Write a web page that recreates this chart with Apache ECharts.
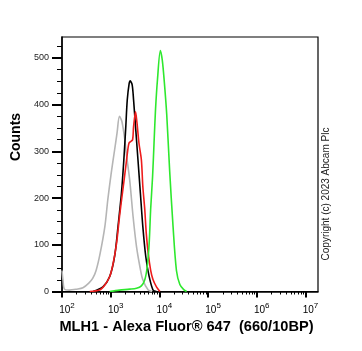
<!DOCTYPE html>
<html>
<head>
<meta charset="utf-8">
<style>
  html, body { margin: 0; padding: 0; background: #fff; }
  #main { width: 362px; height: 351px; }
</style>
<script src="https://cdn.jsdelivr.net/npm/echarts@6.0.0/dist/echarts.min.js"></script>
</head>
<body>
<div id="main"></div>
<script>
// x values are log10 of the fluorescence intensity (decades), y values are counts
var greyData = [[2.0, 45], [2.02, 25], [2.05, 5], [2.15, 3], [2.3, 5], [2.43, 8], [2.55, 18], [2.63, 28],
  [2.7, 45], [2.78, 80], [2.88, 139], [2.94, 196], [3.01, 253], [3.08, 303], [3.13, 339], [3.18, 375],
  [3.23, 364], [3.29, 325], [3.32, 296], [3.39, 239], [3.46, 160], [3.53, 96], [3.6, 53], [3.66, 25],
  [3.77, 3], [3.85, 0]];
var blackData = [[2.64, 0], [2.84, 10], [2.98, 32], [3.08, 75], [3.15, 139], [3.22, 210], [3.27, 282],
  [3.31, 353], [3.34, 410], [3.38, 446], [3.4, 451], [3.44, 443], [3.47, 410], [3.51, 353], [3.56, 282],
  [3.61, 210], [3.66, 139], [3.72, 75], [3.79, 32], [3.87, 3], [3.94, 0]];
var redData = [[2.57, 0], [2.77, 3], [2.88, 14], [2.98, 32], [3.05, 60], [3.12, 103], [3.18, 160],
  [3.25, 218], [3.31, 268], [3.36, 310], [3.38, 319], [3.41, 321], [3.45, 325], [3.47, 353], [3.51, 385],
  [3.54, 361], [3.58, 318], [3.63, 282], [3.66, 225], [3.7, 175], [3.73, 125], [3.77, 82], [3.82, 46],
  [3.87, 25], [3.94, 10], [4.01, 0]];
var greenData = [[2.98, 0], [3.18, 3], [3.39, 5], [3.53, 7], [3.63, 12], [3.7, 25], [3.75, 53], [3.79, 103],
  [3.82, 175], [3.86, 246], [3.89, 318], [3.92, 389], [3.96, 453], [4.02, 516], [4.06, 495], [4.1, 450],
  [4.15, 380], [4.21, 260], [4.28, 140], [4.35, 45], [4.42, 15], [4.5, 4], [4.56, 0]];

var xMajorTicks = [2, 3, 4, 5, 6, 7];
var yMajorTicks = [0, 100, 200, 300, 400, 500];
var yMinorTicks = [25, 50, 75, 125, 150, 175, 225, 250, 275, 325, 350, 375, 425, 450, 475, 525];

// minor ticks at 2..9 x 10^n
var xMinorTicks = [];
for (var n = 2; n < 7; n++) {
  for (var k = 2; k < 10; k++) {
    xMinorTicks.push(n + Math.log10(k));
  }
}

var font = 'Liberation Sans, Arial, sans-serif';
var myChart = echarts.init(document.getElementById('main'));

function curve(data, color) {
  return {
    type: 'line',
    data: data,
    showSymbol: false,
    smooth: 0.3,
    lineStyle: { color: color, width: 1.6 },
    silent: true
  };
}

myChart.setOption({
  animation: false,
  grid: {
    left: 62, right: 44, top: 37, bottom: 59.5,
    show: true, borderColor: '#000', borderWidth: 1.2,
    outerBoundsMode: 'none'
  },
  xAxis: [{
    type: 'value',
    min: 2, max: 7.257,
    splitLine: { show: false },
    axisLine: { onZero: false, lineStyle: { color: '#000', width: 1.5 } },
    axisTick: { customValues: xMajorTicks, length: 6, lineStyle: { color: '#000', width: 2 } },
    axisLabel: {
      customValues: xMajorTicks,
      margin: 10,
      padding: [0, 0, 0, 10],
      formatter: function(v) { return '{a|10}{b|' + v + '}'; },
      rich: {
        a: { fontSize: 10, fontFamily: font, color: '#000', padding: [5, 0, 0, 0], lineHeight: 12 },
        b: { fontSize: 8, fontFamily: font, color: '#000', lineHeight: 8, verticalAlign: 'top' }
      }
    },
    name: 'MLH1 - Alexa Fluor\u00ae 647  (660/10BP)',
    nameLocation: 'middle',
    nameGap: 21,
    nameTextStyle: { fontSize: 14.6, fontWeight: 'bold', fontFamily: font, color: '#000', padding: [0, 7, 0, 0] }
  }, {
    type: 'value',
    position: 'bottom',
    min: 2, max: 7.257,
    splitLine: { show: false },
    axisLine: { show: false, onZero: false },
    axisLabel: { show: false },
    axisTick: { customValues: xMinorTicks, length: 3, lineStyle: { color: '#000', width: 1 } }
  }],
  yAxis: [{
    type: 'value',
    min: 0, max: 545,
    splitLine: { show: false },
    axisLine: { show: true, lineStyle: { color: '#000', width: 1.5 } },
    axisTick: { customValues: yMajorTicks, length: 10, lineStyle: { color: '#000', width: 2 } },
    axisLabel: { customValues: yMajorTicks, margin: 13, fontSize: 9, fontFamily: font, color: '#222' }
  }, {
    type: 'value',
    position: 'left',
    min: 0, max: 545,
    splitLine: { show: false },
    axisLine: { show: false },
    axisLabel: { show: false },
    axisTick: { customValues: yMinorTicks, length: 5, lineStyle: { color: '#000', width: 1 } }
  }],
  graphic: [{
    type: 'text',
    x: 16, y: 137,
    rotation: Math.PI / 2,
    style: { text: 'Counts', font: 'bold 14px ' + font, fill: '#000', align: 'center', verticalAlign: 'middle' }
  }, {
    type: 'text',
    x: 326, y: 194,
    rotation: Math.PI / 2,
    style: { text: 'Copyright (c) 2023 Abcam Plc', font: '10px ' + font, fill: '#222', align: 'center', verticalAlign: 'middle' }
  }],
  series: [
    curve(greyData, '#b5b5b5'),
    curve(blackData, '#000000'),
    curve(redData, '#ee1c1c'),
    curve(greenData, '#2ee82e')
  ]
});
</script>
</body>
</html>
